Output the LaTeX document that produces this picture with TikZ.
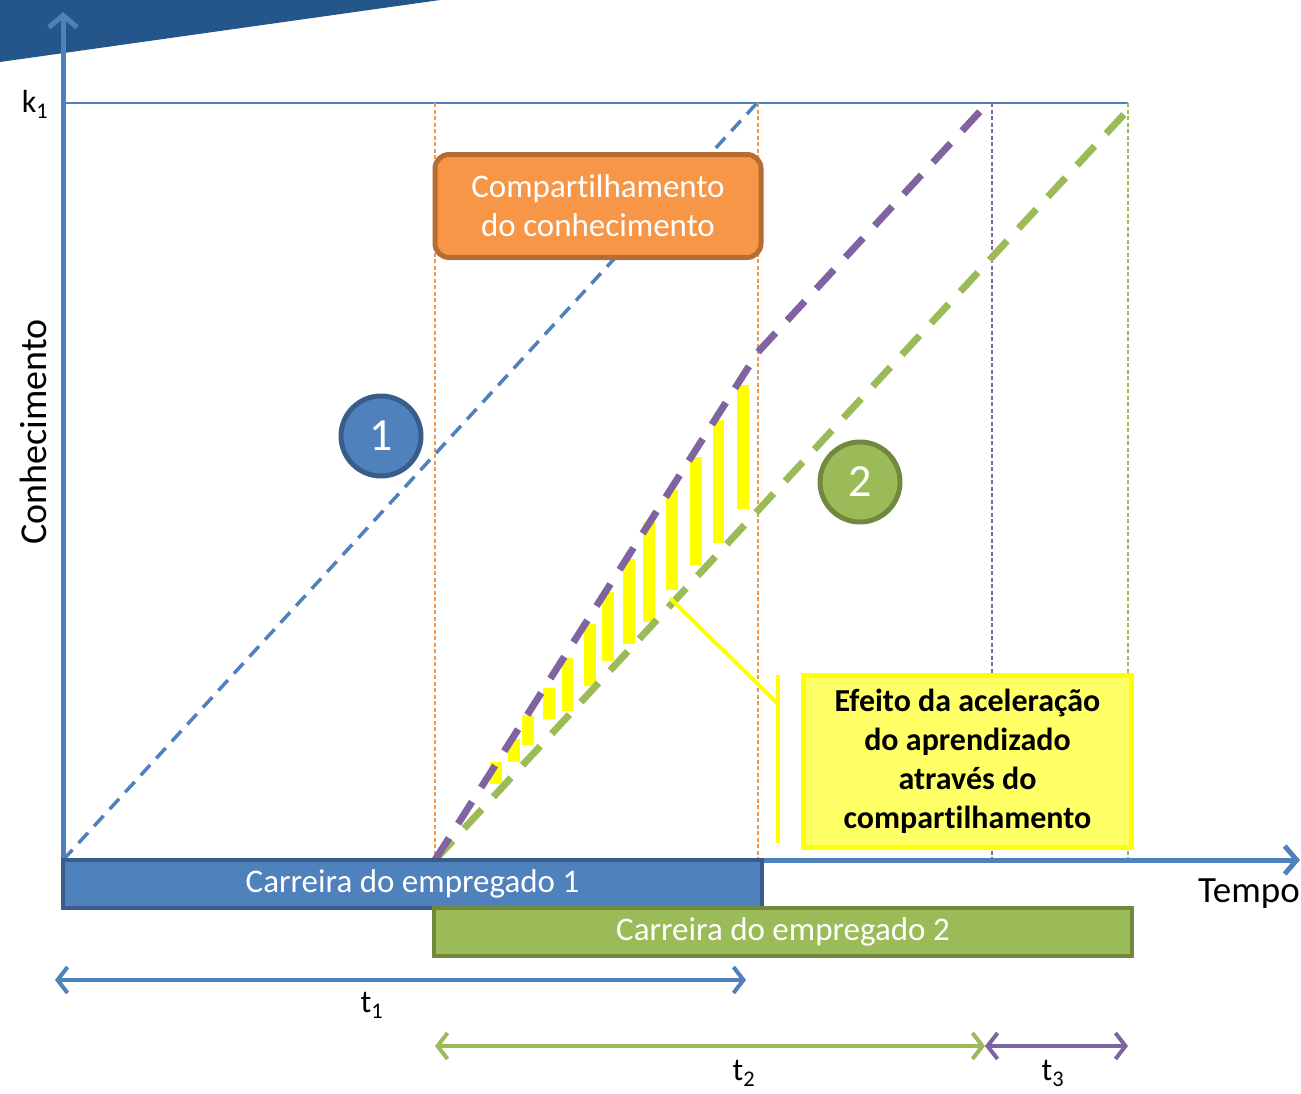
\documentclass[tikz,border=0pt]{standalone}
\usepackage{fontspec}
\setmainfont{Carlito}[Ligatures=NoCommon]
\usetikzlibrary{arrows.meta}
\definecolor{obl}{RGB}{79,129,189}
\definecolor{obld}{RGB}{56,93,138}
\definecolor{ogr}{RGB}{155,187,89}
\definecolor{ogrd}{RGB}{113,137,63}
\definecolor{opu}{RGB}{128,100,162}
\definecolor{oor}{RGB}{247,150,70}
\definecolor{oord}{RGB}{182,109,49}
\definecolor{ban}{RGB}{36,86,138}
\definecolor{yfill}{RGB}{255,255,102}
\definecolor{ylw}{RGB}{255,255,0}
\tikzset{
  axisline/.style={draw=obl,line width=5pt,-{Straight Barb[length=12pt,width=28pt]}},
  guide/.style={line width=1.5pt,dash pattern=on 4pt off 2.5pt},
  bigdash/.style={line width=7pt,dash pattern=on 26pt off 17pt},
  bar/.style={draw,line width=4pt,minimum height=48pt,text=white,font=\fontsize{33}{38}\selectfont,inner sep=0pt},
  numc/.style={circle,line width=5pt,minimum size=80pt,text=white,font=\fontsize{46}{52}\selectfont,inner sep=0pt},
  lbl/.style={font=\fontsize{32}{38}\selectfont,inner sep=0pt},
  dbl/.style={line width=4pt,{Straight Barb[length=10pt,width=26pt]}-{Straight Barb[length=10pt,width=26pt]}},
  yline/.style={draw=ylw,line width=4pt}
}
\begin{document}
\begin{tikzpicture}[x=1pt,y=-1pt]
\useasboundingbox (0,0) rectangle (1301,1093);
\fill[white] (0,0) rectangle (1301,1093);
% banner
\fill[ban] (0,0) -- (440,0) -- (0,62) -- cycle;
% k1 line
\draw[obl,line width=2pt] (63,103) -- (1128,103);
% guides
\draw[oor,guide] (435,103) -- (435,860);
\draw[oor,guide] (758,103) -- (758,860);
\draw[opu,guide] (992,103) -- (992,860);
\draw[ogr,guide] (1128,103) -- (1128,860);
% blue dashed line
\draw[obl,line width=3.5pt,dash pattern=on 14pt off 9pt] (63,860) -- (757,103);
% yellow bars
\foreach \a/\b/\c/\d in {490/762/502/784, 508/739/520/762, 522/715/534/745, 543/688/555/719,
  562/658/573/711, 584/624/596/686, 602/592/614/661, 623/559/635/644, 643/522/655/622,
  666/490/678/590, 690/457/702/565, 713/420/724/543, 737/385/749/509}
  \fill[ylw] (\a,\b) rectangle (\c,\d);
% green and purple dashed lines
\coordinate (o2) at (435,860);
\coordinate (bend) at (758,352);
\coordinate (pend) at (985,106);
\coordinate (gend) at (1128,110);
\draw[ogr,bigdash] (o2) -- (gend);
\draw[opu,bigdash] (o2) -- (bend) -- (pend);
% yellow pointer
\coordinate (ptr) at (670,598);
\coordinate (joint) at (778,704);
\coordinate (vt) at (778,675);
\coordinate (vb) at (778,843);
\draw[yline] (ptr) -- (joint);
\draw[yline] (vt) -- (vb);
% orange box
\node[draw=oord,fill=oor,line width=5pt,rounded corners=14pt,minimum width=326pt,minimum height=103pt,
  text=white,align=center,font=\fontsize{33}{39}\selectfont,inner sep=0pt] (share) at (598,206)
  {Compartilhamento\\do conhecimento};
% circles
\node[numc,draw=obld,fill=obl] (c1) at (381,436) {1};
\node[numc,draw=ogrd,fill=ogr] (c2) at (860,482) {2};
% yellow box
\node[draw=ylw,fill=yfill,line width=5pt,minimum width=328pt,minimum height=172pt,align=center,
  font=\bfseries\fontsize{32}{39}\selectfont,inner sep=0pt] (eff) at (967.5,761)
  {Efeito da aceleração\\do aprendizado\\através do\\compartilhamento};
% axes
\coordinate (origin) at (63,862);
\coordinate (ytop) at (63,12);
\coordinate (xend) at (1300,860);
\draw[axisline] (63,860) -- (xend);
\draw[axisline] (origin) -- (ytop);
% bars
\node[bar,draw=obld,fill=obl,minimum width=699pt] (car1) at (412.5,884) {Carreira do empregado 1};
\node[bar,draw=ogrd,fill=ogr,minimum width=698pt] (car2) at (783,932) {Carreira do empregado 2};
% labels
\node[lbl] (k1) at (35,104) {k\textsubscript{1}};
\node[lbl,font=\fontsize{37}{42}\selectfont] (tempo) at (1249,894) {Tempo};
\node[lbl,font=\fontsize{38}{44}\selectfont,rotate=90] (conh) at (33,432) {Conhecimento};
% time arrows
\coordinate (t1a) at (55,980);
\coordinate (t1b) at (746,980);
\coordinate (t2a) at (435,1046);
\coordinate (t2b) at (985,1046);
\coordinate (t3b) at (1128,1046);
\draw[dbl,obl] (t1a) -- (t1b);
\draw[dbl,ogr] (t2a) -- (t2b);
\draw[dbl,opu] (t2b) -- (t3b);
\node[lbl] (t1) at (372,1005) {t\textsubscript{1}};
\node[lbl] (t2) at (744,1073) {t\textsubscript{2}};
\node[lbl] (t3) at (1053,1073) {t\textsubscript{3}};
\end{tikzpicture}
\end{document}
